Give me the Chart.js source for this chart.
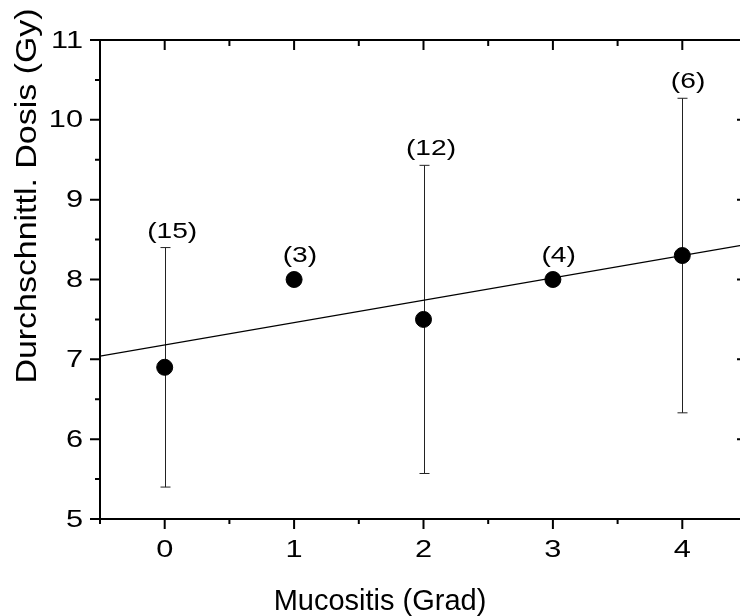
<!DOCTYPE html>
<html>
<head>
<meta charset="utf-8">
<script src="https://cdn.jsdelivr.net/npm/chart.js@4/dist/chart.umd.min.js"></script>
<style>
  html, body { margin: 0; padding: 0; background: #fff; overflow: hidden; }
  canvas { display: block; }
</style>
</head>
<body>
<canvas id="chartMucositis" width="760" height="616"></canvas>
<script>
// Mucositis grade vs. mean dose
const grades = [0, 1, 2, 3, 4];
const meanDose = [6.9, 8.0, 7.5, 8.0, 8.3];
const sdDose = [1.5, 0, 1.93, 0, 1.97];
const counts = [15, 3, 12, 4, 6];

const xTicks = [0, 1, 2, 3, 4];
const xMinor = [-0.5, 0.5, 1.5, 2.5, 3.5, 4.5];
const yTicks = [5, 6, 7, 8, 9, 10, 11];
const yMinor = [5.5, 6.5, 7.5, 8.5, 9.5, 10.5];

const FONT = '"Liberation Sans", Arial, Helvetica, sans-serif';
const WIDE = 1.28; // glyphs are drawn a bit wider than the font's own

// least squares line through the means
const n = grades.length;
const mx = grades.reduce((a, b) => a + b, 0) / n;
const my = meanDose.reduce((a, b) => a + b, 0) / n;
let sxy = 0, sxx = 0;
for (let i = 0; i < n; i++) {
  sxy += (grades[i] - mx) * (meanDose[i] - my);
  sxx += (grades[i] - mx) ** 2;
}
const slope = sxy / sxx;
const intercept = my - slope * mx;
const xMin = -0.5, xMax = 4.5;
const fitLine = [xMin, xMax].map(x => ({ x, y: intercept + slope * x }));

// text stretched horizontally; anchor: "left" | "center" | "right"
function wideText(ctx, txt, x, y, anchor) {
  const w = ctx.measureText(txt).width * WIDE;
  let left = x;
  if (anchor === "center") left = x - w / 2;
  if (anchor === "right") left = x - w;
  ctx.save();
  ctx.textAlign = "left";
  ctx.translate(left, y);
  ctx.scale(WIDE, 1);
  ctx.fillText(txt, 0, 0);
  ctx.restore();
}

// error bars under the points, group sizes above
const errorBars = {
  id: "errorBars",
  beforeDatasetsDraw(chart) {
    const { ctx, scales: { x, y } } = chart;
    ctx.save();
    ctx.strokeStyle = "#222";
    ctx.lineWidth = 1;
    grades.forEach((g, i) => {
      if (!sdDose[i]) return;
      const px = Math.round(x.getPixelForValue(g)) + 0.5;
      const top = y.getPixelForValue(meanDose[i] + sdDose[i]);
      const bot = y.getPixelForValue(meanDose[i] - sdDose[i]);
      ctx.beginPath();
      ctx.moveTo(px, top); ctx.lineTo(px, bot);
      ctx.moveTo(px - 5, top); ctx.lineTo(px + 5, top);
      ctx.moveTo(px - 5, bot); ctx.lineTo(px + 5, bot);
      ctx.stroke();
    });
    ctx.restore();
  },
  afterDatasetsDraw(chart) {
    const { ctx, scales: { x, y } } = chart;
    ctx.save();
    ctx.fillStyle = "#000";
    ctx.font = "22px " + FONT;
    ctx.textBaseline = "alphabetic";
    grades.forEach((g, i) => {
      const px = x.getPixelForValue(g);
      const top = sdDose[i]
        ? y.getPixelForValue(meanDose[i] + sdDose[i])
        : y.getPixelForValue(meanDose[i]) - 8;
      const txt = "(" + counts[i] + ")";
      const w = ctx.measureText(txt).width;
      wideText(ctx, txt, px - w / 2 + 2, top - 10, "left");
    });
    ctx.restore();
  }
};

// frame, ticks and axis titles
const axesFrame = {
  id: "axesFrame",
  afterDraw(chart) {
    const { ctx, chartArea: a, scales: { x, y } } = chart;
    ctx.save();
    ctx.strokeStyle = "#000";
    ctx.lineWidth = 2;
    ctx.lineCap = "butt";

    ctx.beginPath();
    ctx.moveTo(a.left, a.top); ctx.lineTo(a.left, a.bottom + 1);
    ctx.moveTo(a.left - 1, a.bottom); ctx.lineTo(a.right, a.bottom);
    ctx.moveTo(a.left - 1, a.top); ctx.lineTo(a.right, a.top);
    ctx.stroke();

    ctx.beginPath();
    xTicks.forEach(v => {
      const px = x.getPixelForValue(v);
      ctx.moveTo(px, a.bottom); ctx.lineTo(px, a.bottom + 10);
      ctx.moveTo(px, a.top); ctx.lineTo(px, a.top + 10);
    });
    xMinor.forEach(v => {
      const px = x.getPixelForValue(v);
      ctx.moveTo(px, a.bottom); ctx.lineTo(px, a.bottom + 5);
      ctx.moveTo(px, a.top); ctx.lineTo(px, a.top + 6);
    });
    yTicks.forEach(v => {
      const py = y.getPixelForValue(v);
      ctx.moveTo(a.left - 10, py); ctx.lineTo(a.left, py);
      ctx.moveTo(a.right - 10, py); ctx.lineTo(a.right, py);
    });
    yMinor.forEach(v => {
      const py = y.getPixelForValue(v);
      ctx.moveTo(a.left - 5, py); ctx.lineTo(a.left, py);
      ctx.moveTo(a.right - 5, py); ctx.lineTo(a.right, py);
    });
    ctx.stroke();

    ctx.fillStyle = "#000";
    ctx.font = "24px " + FONT;
    ctx.textBaseline = "middle";
    xTicks.forEach(v => wideText(ctx, String(v), x.getPixelForValue(v), a.bottom + 31, "center"));
    yTicks.forEach(v => wideText(ctx, String(v), a.left - 17, y.getPixelForValue(v) + 1, "right"));

    ctx.font = "29px " + FONT;
    ctx.textAlign = "center";
    ctx.textBaseline = "alphabetic";
    ctx.fillText("Mucositis (Grad)", 380, 610);

    ctx.translate(36, 196);
    ctx.rotate(-Math.PI / 2);
    ctx.scale(1.17, 1);
    ctx.fillText("Durchschnittl. Dosis (Gy)", 0, 0);
    ctx.restore();
  }
};

document.addEventListener("DOMContentLoaded", () => {
  new Chart(document.getElementById("chartMucositis"), {
    type: "scatter",
    data: {
      datasets: [
        {
          label: "Mittelwert",
          data: grades.map((g, i) => ({ x: g, y: meanDose[i] })),
          backgroundColor: "#000",
          borderColor: "#000",
          pointRadius: 8,
          pointHoverRadius: 8
        },
        {
          type: "line",
          label: "Regression",
          data: fitLine,
          borderColor: "#000",
          borderWidth: 1.2,
          pointRadius: 0,
          fill: false
        }
      ]
    },
    options: {
      responsive: false,
      animation: false,
      events: [],
      layout: { padding: { left: 100, top: 40, right: 13, bottom: 97 } },
      scales: {
        x: { type: "linear", min: xMin, max: xMax, display: false },
        y: { type: "linear", min: 5, max: 11, display: false }
      },
      plugins: { legend: { display: false }, tooltip: { enabled: false } }
    },
    plugins: [errorBars, axesFrame]
  });
});
</script>
</body>
</html>
